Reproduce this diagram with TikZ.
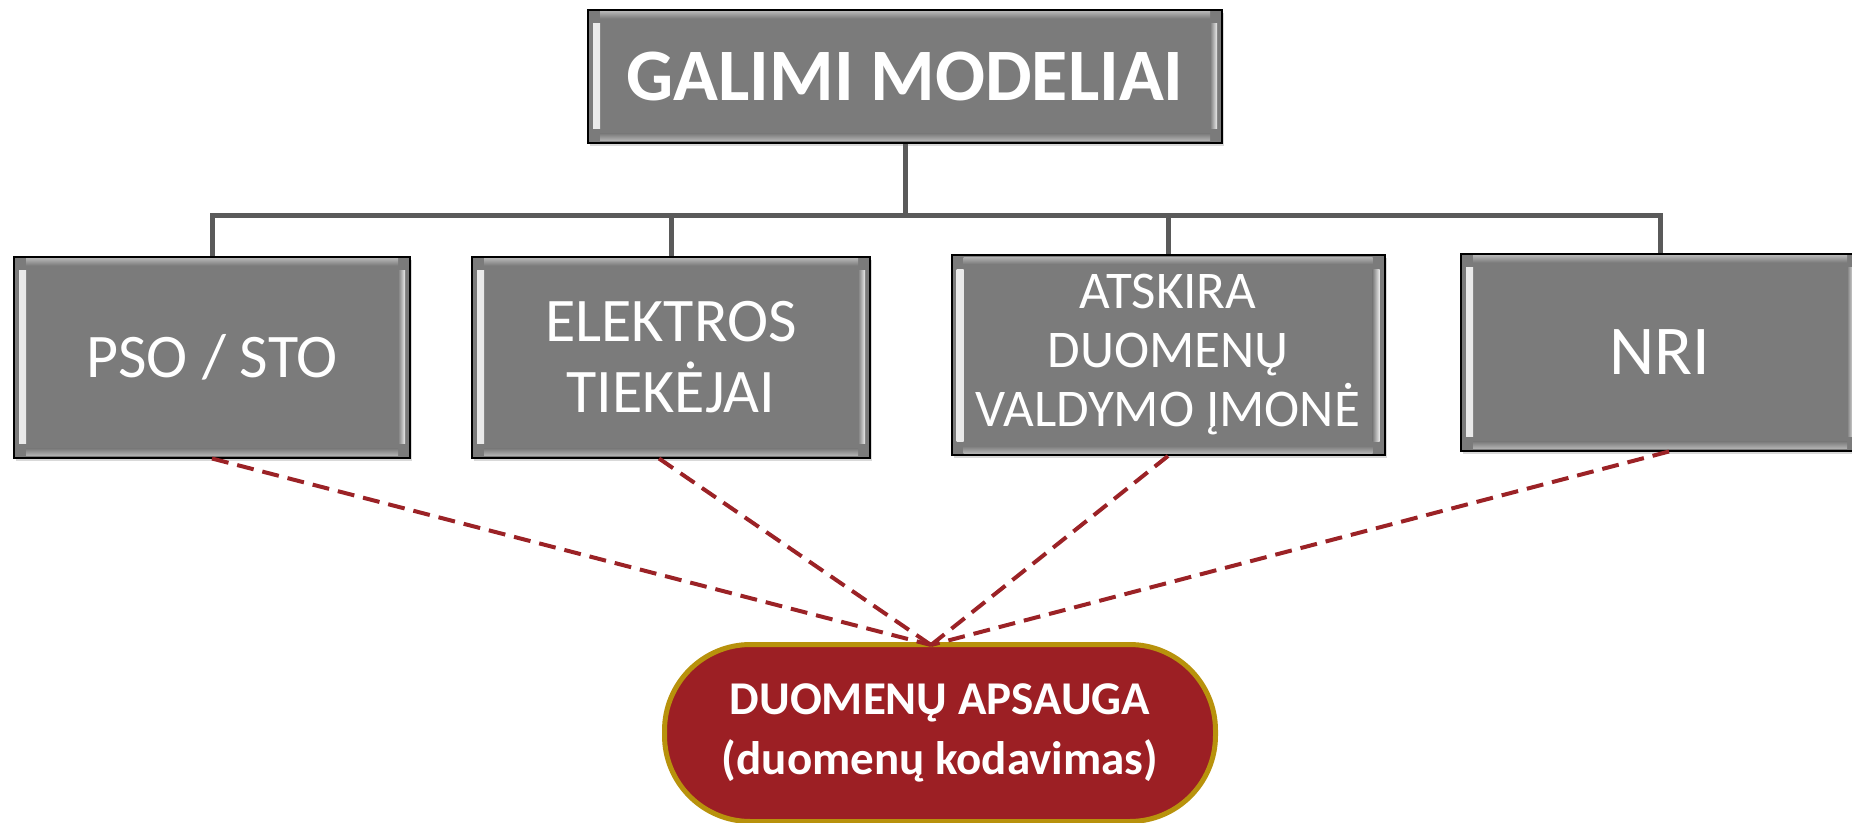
\documentclass[tikz,border=0pt]{standalone}
\usepackage{fontspec}
\setmainfont{Carlito}
\usetikzlibrary{shadows}
\definecolor{boxgray}{HTML}{7B7B7B}
\definecolor{linegray}{HTML}{5A5A5A}
\definecolor{dashred}{HTML}{9B2226}
\definecolor{protred}{HTML}{9C1F24}
\definecolor{protgold}{HTML}{B8920C}
\tikzset{
  bevel/.style={path picture={
    \shade[left color=gray!15, right color=boxgray]
      ([xshift=5pt,yshift=-14pt]path picture bounding box.north west) rectangle
      ([xshift=12pt,yshift=14pt]path picture bounding box.south west);
    \shade[left color=boxgray, right color=gray!15]
      ([xshift=-12pt,yshift=-14pt]path picture bounding box.north east) rectangle
      ([xshift=-5pt,yshift=14pt]path picture bounding box.south east);
    \shade[top color=gray!60, bottom color=boxgray]
      ([xshift=12pt,yshift=-2pt]path picture bounding box.north west) rectangle
      ([xshift=-12pt,yshift=-9pt]path picture bounding box.north east);
    \shade[top color=boxgray, bottom color=gray!60]
      ([xshift=12pt,yshift=9pt]path picture bounding box.south west) rectangle
      ([xshift=-12pt,yshift=2pt]path picture bounding box.south east);
  }},
  model/.style={draw=black, line width=2pt, fill=boxgray, text=white,
    inner sep=0pt, align=center, bevel,
    drop shadow={shadow xshift=2pt, shadow yshift=-3pt, opacity=0.3}},
  tree/.style={draw=linegray, line width=5pt},
  link/.style={draw=dashred, line width=4pt, dash pattern=on 17pt off 9pt},
  protect/.style={draw=protgold, line width=5pt, fill=protred, text=white,
    rounded corners=86pt, minimum width=551pt, minimum height=177pt,
    inner sep=0pt, align=center}
}
\begin{document}
\begin{tikzpicture}[x=1pt,y=-1pt]
  \useasboundingbox (0,0) rectangle (1852,822);
  % models
  \node[model, minimum width=634pt, minimum height=133pt,
    font=\fontsize{74}{80}\selectfont\bfseries] (title) at (905,76) {GALIMI MODELIAI};
  \node[model, minimum width=396pt, minimum height=201pt,
    font=\fontsize{62}{71}\selectfont] (pso) at (212,357) {PSO / STO};
  \node[model, minimum width=398pt, minimum height=201pt,
    font=\fontsize{62}{71}\selectfont] (tiek) at (671,357) {ELEKTROS\\TIEKĖJAI};
  \node[model, minimum width=433pt, minimum height=200pt,
    font=\fontsize{53}{59}\selectfont] (atsk) at (1168,355) {ATSKIRA\\DUOMENŲ\\VALDYMO ĮMONĖ};
  \node[model, minimum width=398pt, minimum height=197pt,
    font=\fontsize{70}{76}\selectfont] (nri) at (1660,352) {NRI};
  \node[protect, font=\fontsize{47}{60}\selectfont\bfseries] (apsauga) at (940,733)
    {DUOMENŲ APSAUGA\\(duomenų kodavimas)};
  \coordinate (hub) at (905,215);
  \coordinate (meet) at (931,645);
  % tree
  \begin{scope}[tree]
    \draw (title) -- (hub);
    \draw (hub) -| (pso);
    \draw (hub) -| (tiek);
    \draw (hub) -| (atsk);
    \draw (hub) -| (nri);
  \end{scope}
  % protection links
  \begin{scope}[link]
    \draw (pso.south) -- (meet);
    \draw ([xshift=-12pt]tiek.south) -- (meet);
    \draw (atsk.south) -- (meet);
    \draw ([xshift=9pt]nri.south) -- (meet);
  \end{scope}
\end{tikzpicture}
\end{document}
